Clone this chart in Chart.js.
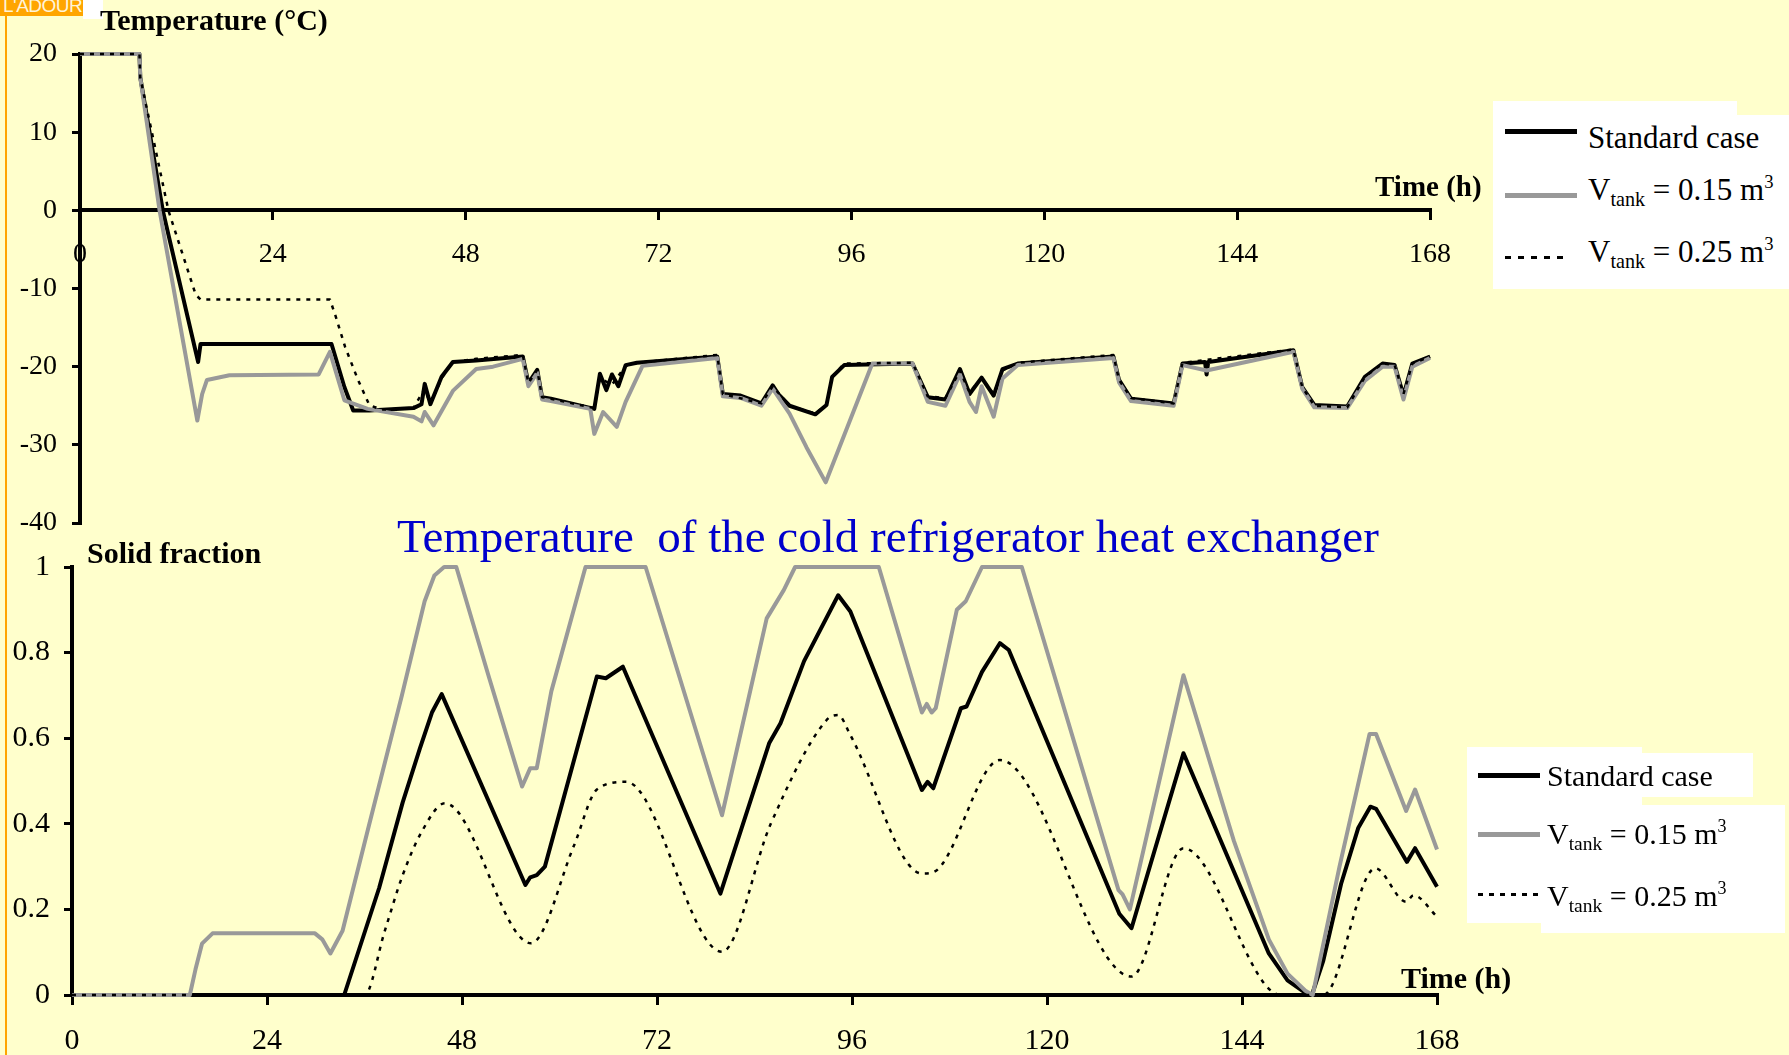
<!DOCTYPE html>
<html>
<head>
<meta charset="utf-8">
<script src="https://cdn.jsdelivr.net/npm/chart.js@4/dist/chart.umd.min.js"></script>
<style>
  body { margin: 0; background: #ffffcc; width: 1789px; height: 1055px; overflow: hidden; position: relative; font-family: 'Liberation Serif', 'Times New Roman', serif; }
  canvas { position: absolute; left: 0; }
  .txt { position: absolute; line-height: 1; transform: translateY(-50%); white-space: pre; color: #000; }
  .bold { font-weight: bold; }
  .box { position: absolute; background: #fff; }
  .sample { position: absolute; }
  .sub { font-size: 0.65em; position: relative; top: 0.3em; }
  .sup { font-size: 0.6em; position: relative; top: -0.65em; }
</style>
</head>
<body>

<!-- logo corner + orange rule -->
<div style="position:absolute;left:83px;top:0;width:20px;height:19px;background:#fff;"></div>
<div style="position:absolute;left:0;top:0;width:83px;height:16px;background:#ffa500;overflow:hidden;">
  <div style="position:absolute;left:3px;top:-5px;font-family:'Liberation Sans',sans-serif;font-size:19px;letter-spacing:-0.5px;color:#fff4d8;">L'ADOUR</div>
</div>
<div style="position:absolute;left:5px;top:15px;width:2px;height:1040px;background:#ffa500;"></div>

<canvas id="tempChart" width="1789" height="560" style="top:0;"></canvas>
<canvas id="solidChart" width="1789" height="525" style="top:530px;"></canvas>

<div class="txt bold" style="left:100px;top:20px;font-size:30px;">Temperature (°C)</div>
<div class="txt bold" style="left:1375px;top:186px;font-size:29px;">Time (h)</div>
<div class="txt bold" style="left:87px;top:553px;font-size:30px;">Solid fraction</div>
<div class="txt bold" style="left:1401px;top:978px;font-size:30px;">Time (h)</div>
<div class="txt" style="left:397px;top:536px;font-size:47px;color:#0000cc;">Temperature  of the cold refrigerator heat exchanger</div>

<!-- legend, top chart -->
<div class="box" style="left:1493px;top:101px;width:244px;height:188px;"></div>
<div class="box" style="left:1737px;top:115px;width:52px;height:174px;"></div>
<div class="sample" style="left:1505px;top:129px;width:72px;height:5px;background:#000;"></div>
<div class="sample" style="left:1505px;top:193px;width:72px;height:5px;background:#999;"></div>
<div class="sample" style="left:1505px;top:256px;width:64px;height:3px;background:repeating-linear-gradient(90deg,#000 0 6px,transparent 6px 13px);"></div>
<div class="txt" style="left:1588px;top:137px;font-size:31px;">Standard case</div>
<div class="txt" style="left:1588px;top:189px;font-size:31px;">V<span class="sub">tank</span> = 0.15 m<span class="sup">3</span></div>
<div class="txt" style="left:1588px;top:251px;font-size:31px;">V<span class="sub">tank</span> = 0.25 m<span class="sup">3</span></div>

<!-- legend, bottom chart -->
<div class="box" style="left:1467px;top:747px;width:175px;height:176px;"></div>
<div class="box" style="left:1642px;top:753px;width:111px;height:44px;"></div>
<div class="box" style="left:1541px;top:805px;width:244px;height:128px;"></div>
<div class="sample" style="left:1478px;top:773px;width:62px;height:5px;background:#000;"></div>
<div class="sample" style="left:1478px;top:832px;width:62px;height:5px;background:#999;"></div>
<div class="sample" style="left:1478px;top:893px;width:62px;height:3px;background:repeating-linear-gradient(90deg,#000 0 5px,transparent 5px 11px);"></div>
<div class="txt" style="left:1547px;top:776px;font-size:30px;">Standard case</div>
<div class="txt" style="left:1547px;top:834px;font-size:30px;">V<span class="sub">tank</span> = 0.15 m<span class="sup">3</span></div>
<div class="txt" style="left:1547px;top:896px;font-size:30px;">V<span class="sub">tank</span> = 0.25 m<span class="sup">3</span></div>

<script>
// Temperature of the cold heat exchanger (°C) vs time (h)
const tempHoursStd = [0, 7.4, 7.5, 10.3, 14.7, 15.0, 31.3, 32.9, 34.0, 36, 41.5, 42.5, 42.9, 43.6, 45.0, 46.4, 49.3, 55.1, 55.8, 56.9, 57.5, 58.6, 64.0, 64.7, 65.5, 66.2, 67.0, 67.9, 69.3, 79.3, 80.0, 82.2, 84.8, 86.2, 86.9, 88.3, 91.5, 92.9, 93.6, 95.1, 103.6, 105.5, 107.7, 109.5, 110.7, 112.2, 113.7, 114.8, 116.7, 128.6, 129.3, 130.8, 136.1, 137.2, 140.0, 140.2, 140.4, 151.0, 152.1, 153.6, 157.7, 159.9, 162.1, 163.6, 164.7, 165.8, 168];
const tempStd = [20, 20, 17, 0, -19.4, -17.1, -17.1, -22.6, -25.6, -25.6, -25.3, -24.8, -22.2, -24.8, -21.3, -19.4, -19.2, -18.7, -22.1, -20.4, -23.9, -24.1, -25.4, -20.9, -23, -21, -22.5, -19.8, -19.5, -18.7, -23.5, -23.7, -24.7, -22.4, -23.5, -25.0, -26.1, -24.9, -21.3, -19.8, -19.6, -23.9, -24.2, -20.3, -23.5, -21.4, -23.7, -20.3, -19.6, -18.7, -21.7, -24.1, -24.7, -19.6, -19.4, -21, -19.4, -17.9, -22.6, -24.9, -25.1, -21.3, -19.6, -19.8, -23.7, -19.6, -18.7];

const tempHours015 = [0, 7.4, 7.5, 9.9, 14.6, 15.2, 15.8, 18.6, 29.7, 31.1, 32.9, 35.8, 41.5, 42.5, 42.9, 44.0, 46.4, 49.3, 51.4, 55.1, 55.8, 56.9, 57.5, 58.6, 63.5, 64.0, 65.1, 66.8, 67.9, 70.0, 79.3, 80.0, 82.2, 84.8, 86.2, 88.3, 90.4, 92.8, 98.6, 103.6, 105.5, 107.7, 109.5, 110.7, 111.5, 112.2, 113.7, 114.8, 116.7, 128.6, 129.3, 130.8, 136.1, 137.2, 140.2, 151.0, 152.1, 153.6, 157.7, 159.9, 162.1, 163.6, 164.7, 165.8, 168];
const temp015 = [20, 20, 17, 0, -26.9, -23.5, -21.7, -21.1, -21.0, -18.1, -24.3, -25.4, -26.4, -27.0, -25.8, -27.5, -23.1, -20.3, -20.0, -19.0, -22.5, -20.8, -24.2, -24.4, -25.4, -28.6, -25.8, -27.7, -24.5, -19.9, -18.9, -23.8, -24.0, -25.0, -22.8, -26.0, -30.3, -34.8, -19.6, -19.6, -24.5, -25.0, -21.0, -24.5, -25.8, -22.5, -26.4, -21.5, -19.8, -18.9, -22.0, -24.4, -25.0, -19.8, -20.5, -18.1, -22.8, -25.2, -25.3, -21.8, -20.0, -20.0, -24.2, -20.0, -18.9];

const tempHours025 = [0, 7.4, 7.5, 11.0, 14.4, 15.0, 31.1, 31.8, 33.0, 34.6, 36.0, 37.5, 41.5, 42.9, 43.6, 45.0, 46.4, 49.3, 55.1, 55.8, 56.9, 57.5, 58.6, 64.0, 64.7, 66.2, 67.9, 69.3, 79.3, 80.0, 84.8, 86.2, 88.3, 91.5, 92.9, 93.6, 95.1, 103.6, 105.5, 107.7, 109.5, 110.7, 112.2, 113.7, 114.8, 116.7, 128.6, 129.3, 130.8, 136.1, 137.2, 151.0, 152.1, 153.6, 157.7, 159.9, 162.1, 163.6, 164.7, 165.8, 168];
const temp025 = [20, 20, 17, 0, -10.8, -11.4, -11.4, -13.5, -17.5, -21.7, -24.9, -25.5, -25.3, -22.8, -24.8, -21.5, -19.4, -19.0, -18.5, -22.1, -20.4, -23.9, -24.1, -25.3, -21.5, -22.3, -19.9, -19.5, -18.5, -23.5, -24.7, -22.5, -25.0, -26.0, -24.9, -21.3, -19.6, -19.5, -23.8, -24.0, -20.5, -23.3, -21.4, -23.5, -20.5, -19.5, -18.5, -21.7, -24.0, -24.7, -19.5, -17.8, -22.6, -25.0, -25.2, -21.3, -19.6, -19.8, -23.5, -19.6, -18.7];

// Solid fraction of the storage tank vs time (h)
const solidHoursStd = [0, 33.5, 37.8, 40.7, 42.8, 44.3, 45.5, 55.8, 56.4, 57.2, 58.2, 64.6, 65.7, 67.8, 79.8, 85.8, 87.2, 90.1, 94.3, 95.8, 104.6, 105.3, 106.0, 109.4, 110.1, 112.0, 114.2, 115.3, 128.9, 130.4, 136.8, 147.3, 149.6, 151.8, 152.6, 154.0, 156.2, 158.3, 159.8, 160.5, 164.3, 165.3, 168];
const solidStd = [0, 0, 0.25, 0.45, 0.575, 0.66, 0.703, 0.257, 0.275, 0.28, 0.30, 0.744, 0.74, 0.767, 0.237, 0.588, 0.635, 0.78, 0.934, 0.896, 0.479, 0.498, 0.483, 0.67, 0.674, 0.755, 0.822, 0.806, 0.19, 0.156, 0.565, 0.097, 0.034, 0.005, 0, 0.08, 0.26, 0.39, 0.44, 0.435, 0.311, 0.343, 0.253];

const solidHours015 = [0, 14.5, 15.2, 16.0, 17.3, 29.9, 30.8, 31.8, 33.3, 36.6, 40.6, 43.4, 44.6, 45.8, 47.3, 51.2, 55.4, 56.4, 57.2, 59.0, 63.2, 70.6, 80.0, 85.5, 87.6, 89.0, 99.3, 104.6, 105.2, 105.8, 106.3, 108.9, 110.0, 112.0, 116.9, 128.8, 129.3, 130.2, 136.8, 143.0, 147.3, 149.6, 151.8, 152.7, 156.0, 159.7, 160.5, 164.2, 165.3, 168];
const solid015 = [0, 0, 0.06, 0.12, 0.144, 0.144, 0.13, 0.097, 0.15, 0.40, 0.70, 0.92, 0.98, 1.0, 1.0, 0.75, 0.487, 0.53, 0.53, 0.71, 1.0, 1.0, 0.42, 0.88, 0.946, 1.0, 1.0, 0.66, 0.68, 0.66, 0.67, 0.9, 0.92, 1.0, 1.0, 0.245, 0.235, 0.2, 0.747, 0.36, 0.13, 0.05, 0.01, 0, 0.3, 0.61, 0.61, 0.43, 0.48, 0.34];

const solidHours025 = [0, 36.0, 38.5, 40.7, 43.0, 45.9, 56.5, 61.8, 64.6, 68.2, 80.0, 86.0, 92.9, 94.3, 95.8, 104.6, 106.0, 114.2, 130.4, 136.8, 148.8, 154.0, 160.4, 164.2, 165.1, 168];
const solid025 = [0, 0, 0.15, 0.28, 0.38, 0.448, 0.121, 0.35, 0.48, 0.498, 0.101, 0.4, 0.643, 0.654, 0.607, 0.284, 0.287, 0.549, 0.043, 0.343, 0, 0, 0.296, 0.218, 0.233, 0.183];

const hourTicks = [0, 24, 48, 72, 96, 120, 144, 168];

Chart.defaults.font.family = "'Liberation Serif', 'Times New Roman', serif";
Chart.defaults.color = '#000';

const toPoints = function(xs, ys) {
    return xs.map((x, i) => ({ x: x, y: ys[i] }));
}

const lineSet = function(label, xs, ys, kind, order, smooth) {
    const ds = {
        label: label,
        data: toPoints(xs, ys),
        borderColor: kind === 'gray' ? '#999999' : '#000000',
        borderWidth: kind === 'dot' ? 2.5 : 4,
        borderJoinStyle: 'round',
        pointRadius: 0,
        fill: false,
        clip: false,
        order: order
    };
    if (kind === 'dot') ds.borderDash = [4, 6];
    if (smooth) ds.cubicInterpolationMode = 'monotone';
    return ds;
}

const axisStyle = function(tickSize, pad) {
    return {
        grid: { drawOnChartArea: false, drawTicks: true, tickLength: 8, color: '#000', lineWidth: 3 },
        border: { color: '#000', width: 4 },
        ticks: { font: { size: tickSize }, color: '#000', padding: pad, autoSkip: false, maxRotation: 0 }
    };
}

const makeXAxis = function(tickSize) {
    const ax = axisStyle(tickSize, 20);
    ax.type = 'linear';
    ax.min = 0;
    ax.max = 168;
    ax.position = { y: 0 };
    ax.afterBuildTicks = function(scale) { scale.ticks = hourTicks.map(v => ({ value: v })); };
    return ax;
}

// top chart: temperature
const tempY = axisStyle(28, 15);
tempY.min = -40;
tempY.max = 20;
tempY.ticks.stepSize = 10;
tempY.afterFit = function(scale) { scale.width = 80; };

new Chart(document.getElementById('tempChart'), {
    type: 'line',
    data: {
        datasets: [
            lineSet('Standard case', tempHoursStd, tempStd, 'black', 2, false),
            lineSet('Vtank = 0.15 m3', tempHours015, temp015, 'gray', 1, false),
            lineSet('Vtank = 0.25 m3', tempHours025, temp025, 'dot', 0, false)
        ]
    },
    options: {
        responsive: false,
        animation: false,
        layout: { padding: { left: 0, right: 359, top: 54, bottom: 37 } },
        plugins: { legend: { display: false }, tooltip: { enabled: false } },
        scales: { x: makeXAxis(28), y: tempY }
    }
});

// bottom chart: solid fraction
const solidY = axisStyle(30, 14);
solidY.min = 0;
solidY.max = 1;
solidY.ticks.stepSize = 0.2;
solidY.ticks.callback = function(v) { return String(Math.round(v * 10) / 10); };
solidY.afterFit = function(scale) { scale.width = 72; };

new Chart(document.getElementById('solidChart'), {
    type: 'line',
    data: {
        datasets: [
            lineSet('Standard case', solidHoursStd, solidStd, 'black', 2, false),
            lineSet('Vtank = 0.15 m3', solidHours015, solid015, 'gray', 1, false),
            lineSet('Vtank = 0.25 m3', solidHours025, solid025, 'dot', 0, true)
        ]
    },
    options: {
        responsive: false,
        animation: false,
        layout: { padding: { left: 0, right: 352, top: 37, bottom: 60 } },
        plugins: { legend: { display: false }, tooltip: { enabled: false } },
        scales: { x: makeXAxis(30), y: solidY }
    }
});
</script>
</body>
</html>
